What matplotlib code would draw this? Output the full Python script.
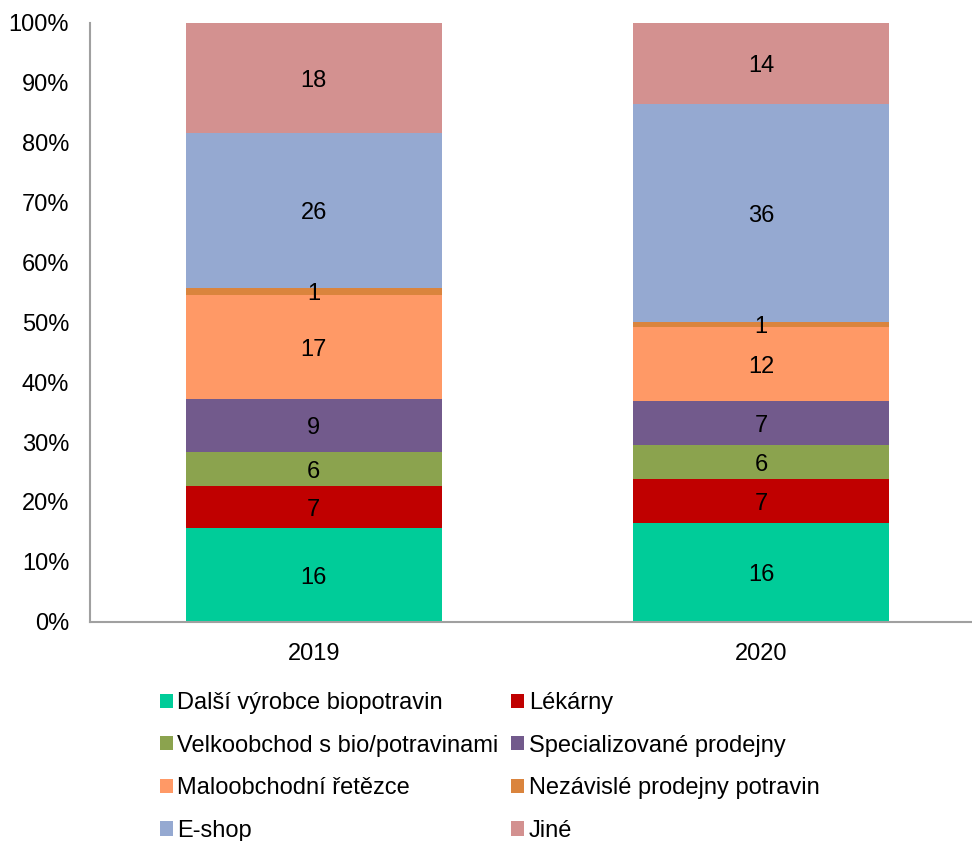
import matplotlib.pyplot as plt
import numpy as np

plt.rcParams['font.family'] = ['Liberation Sans', 'DejaVu Sans']

years = ['2019', '2020']
kategorie = ['Další výrobce biopotravin', 'Lékárny', 'Velkoobchod s bio/potravinami',
             'Specializované prodejny', 'Maloobchodní řetězce', 'Nezávislé prodejny potravin',
             'E-shop', 'Jiné']
# podil v % (2019, 2020)
dalsi = [15.6, 16.4]
lekarny = [7.0, 7.4]
velkoobchod = [5.7, 5.7]
specializovane = [8.9, 7.3]
maloobchod = [17.4, 12.5]
nezavisle = [1.1, 0.8]
eshop = [25.9, 36.3]
jine = [18.4, 13.8]

barvy = ['#00CC99', '#C00000', '#8BA34E', '#725A8C', '#FF9966', '#DA843D', '#95A9D1', '#D39190']

serie = [dalsi, lekarny, velkoobchod, specializovane, maloobchod, nezavisle, eshop, jine]

fig = plt.figure(figsize=(9.72, 8.41), dpi=100)
ax = fig.add_axes([0.0926, 0.2608, 0.9074, 0.7119])

x = np.arange(len(years))
bottom = np.zeros(len(years))
handles = []
for vals, name, c in zip(serie, kategorie, barvy):
    vals = np.array(vals)
    h = ax.bar(x, vals, 0.572, bottom=bottom, color=c, label=name, edgecolor='none')
    handles.append(h)
    for xi, b, v in zip(x, bottom, vals):
        ax.annotate('%.0f' % v, (xi, b + v / 2), xytext=(0, -2), textcoords='offset points',
                    ha='center', va='center', fontsize=17)
    bottom += vals

ax.set_ylim(0, 100)
ax.set_xlim(-0.5, 1.471)
ax.set_yticks(range(0, 101, 10))
ax.set_yticklabels(['%d%%' % t for t in range(0, 101, 10)], fontsize=17)
ax.set_xticks(x)
ax.set_xticklabels(years, fontsize=17)
ax.tick_params(axis='y', length=0, pad=15)
ax.tick_params(axis='x', length=0, pad=15)
for s in ['top', 'right']:
    ax.spines[s].set_visible(False)
ax.spines['left'].set_color('#A0A0A0')
ax.spines['bottom'].set_color('#A0A0A0')
ax.spines['left'].set_linewidth(1.5)
ax.spines['bottom'].set_linewidth(1.5)

# legenda po radcich
poradi = [0, 2, 4, 6, 1, 3, 5, 7]
fig.legend([handles[i] for i in poradi], [kategorie[i] for i in poradi],
           loc='upper left', bbox_to_anchor=(0.1646, 0.177), ncol=2, frameon=False,
           fontsize=17, handlelength=0.55, handleheight=0.55, handletextpad=0.18,
           columnspacing=0.55, labelspacing=0.87, borderaxespad=0, borderpad=0)

plt.savefig('out.png', dpi=100)
